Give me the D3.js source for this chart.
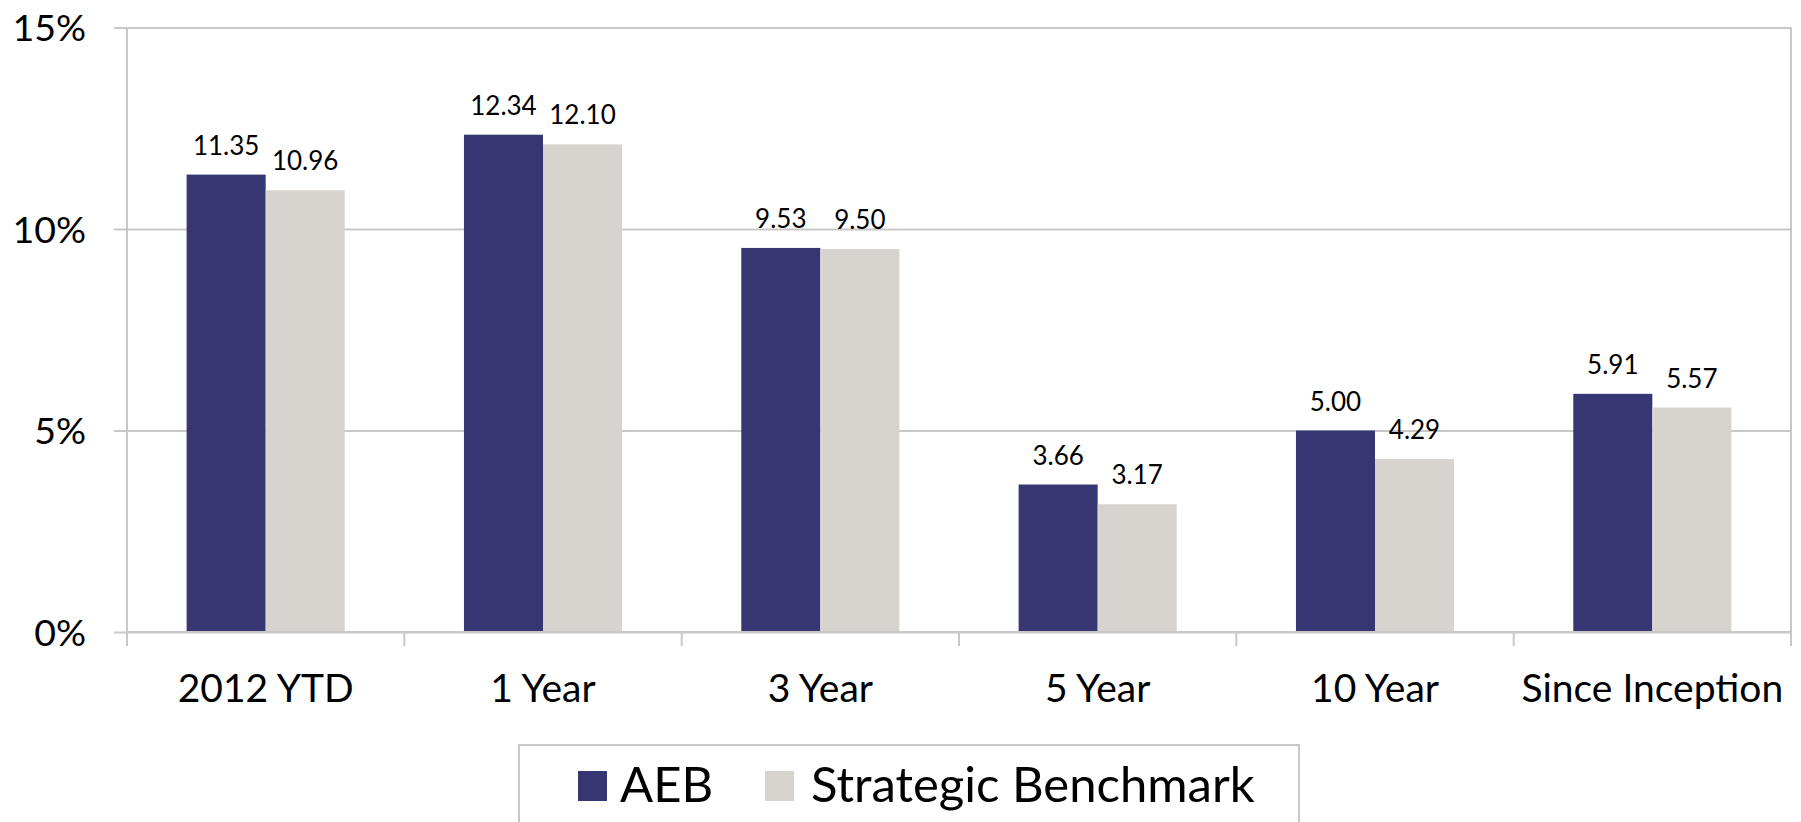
<!DOCTYPE html>
<html><head><meta charset="utf-8">
<script src="https://cdn.jsdelivr.net/npm/d3@7"></script>
<style>html,body{margin:0;padding:0;background:#fff;overflow:hidden}</style>
</head><body>
<svg id="c" width="1801" height="822"></svg>
<script>
const categories = ["2012 YTD","1 Year","3 Year","5 Year","10 Year","Since Inception"];
const seriesNames = ["AEB","Strategic Benchmark"];
const aebValues = [11.35,12.34,9.53,3.66,5.00,5.91];
const benchValues = [10.96,12.10,9.50,3.17,4.29,5.57];
const yTicks = [0,5,10,15];
const colors = ["#363672","#D7D3CE"];

const FONT = "Lato, 'Open Sans', sans-serif";
const svg = d3.select("#c");
const L = 127, R = 1791, T = 27.5, B = 632;

const y = d3.scaleLinear().domain([0,15]).range([B,T]);
const x = d3.scaleBand().domain(categories).range([L,R]).paddingInner(0.43).paddingOuter(0.215);
const xs = d3.scaleBand().domain(seriesNames).range([0,x.bandwidth()]);
const step = (R-L)/categories.length;

// gridlines + y ticks
const gy = svg.append("g").attr("transform",`translate(${L},0)`)
  .call(d3.axisLeft(y).tickValues(yTicks).tickSize(-(R-L)).tickFormat(d=>d+"%").tickPadding(41));
gy.select(".domain").remove();
gy.selectAll(".tick line").attr("stroke","#C8C8C8").attr("stroke-width",2).attr("x1",-13).attr("x2",R-L);
gy.selectAll(".tick text").attr("font-family",FONT).attr("font-size",37.5).attr("fill","#000").attr("dy","0.35em");

// right border
svg.append("line").attr("x1",R).attr("x2",R).attr("y1",T).attr("y2",B).attr("stroke","#C8C8C8").attr("stroke-width",2);
// left axis
svg.append("line").attr("x1",L).attr("x2",L).attr("y1",T).attr("y2",B+14).attr("stroke","#C8C8C8").attr("stroke-width",2);

// bars
const data = categories.map((c,i)=>({c, vals:[{s:seriesNames[0],v:aebValues[i],k:0},{s:seriesNames[1],v:benchValues[i],k:1}]}));
const grp = svg.append("g").selectAll("g").data(data).join("g").attr("transform",d=>`translate(${x(d.c)},0)`);
grp.selectAll("rect").data(d=>d.vals).join("rect")
  .attr("x",d=>xs(d.s)).attr("width",xs.bandwidth())
  .attr("y",d=>y(d.v)).attr("height",d=>y(0)-y(d.v))
  .attr("fill",d=>colors[d.k]);
grp.selectAll("text").data(d=>d.vals).join("text")
  .attr("x",d=>xs(d.s)+xs.bandwidth()/2).attr("y",d=>y(d.v)-20)
  .attr("text-anchor","middle").attr("font-family",FONT).attr("font-size",26).attr("fill","#000")
  .text(d=>d.v.toFixed(2));

// x axis
const gx = svg.append("g").attr("transform",`translate(0,${B})`)
  .call(d3.axisBottom(x).tickSize(0).tickPadding(0));
gx.select(".domain").remove();
gx.selectAll(".tick line").remove();
gx.selectAll(".tick text").attr("font-family",FONT).attr("font-size",39).attr("fill","#000").attr("y",70).attr("dy",0);
svg.append("line").attr("x1",L).attr("x2",R).attr("y1",B).attr("y2",B).attr("stroke","#C8C8C8").attr("stroke-width",2);
svg.append("g").selectAll("line").data(d3.range(categories.length+1)).join("line")
  .attr("x1",i=>L+i*step).attr("x2",i=>L+i*step).attr("y1",B).attr("y2",B+14)
  .attr("stroke","#C8C8C8").attr("stroke-width",2);

// legend
const lg = svg.append("g");
lg.append("rect").attr("x",519).attr("y",745).attr("width",780).attr("height",120)
  .attr("fill","#fff").attr("stroke","#C8C8C8").attr("stroke-width",2);
const legendX = [578,765];
const legendTX = [620,811];
seriesNames.forEach((s,i)=>{
  lg.append("rect").attr("x",legendX[i]).attr("y",771).attr("width",29).attr("height",30).attr("fill",colors[i]);
  lg.append("text").attr("x",legendTX[i]).attr("y",802).attr("font-family",FONT).attr("font-size",49).attr("fill","#000").text(s);
});
</script>
</body></html>
